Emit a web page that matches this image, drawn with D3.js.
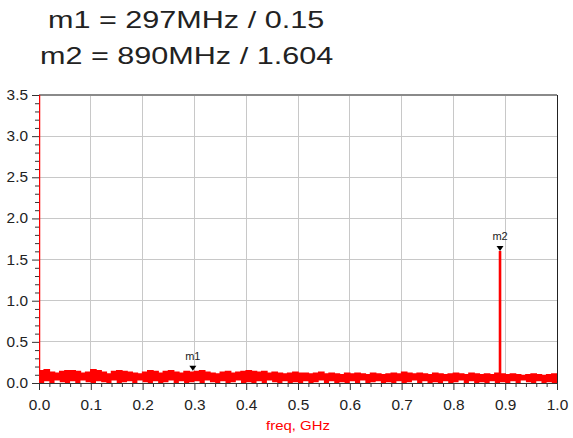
<!DOCTYPE html>
<html>
<head>
<meta charset="utf-8">
<script src="https://cdn.jsdelivr.net/npm/d3@7"></script>
<style>
  body { margin: 0; background: #fff; }
  svg { display: block; font-family: Arial, "Liberation Sans", sans-serif; }
</style>
</head>
<body>
<div id="chart"></div>
<script>
// sweep grid, GHz
var noiseFreq = [0.00,0.01,0.02,0.03,0.04,0.05,0.06,0.07,0.08,0.09,
  0.10,0.11,0.12,0.13,0.14,0.15,0.16,0.17,0.18,0.19,
  0.20,0.21,0.22,0.23,0.24,0.25,0.26,0.27,0.28,0.29,
  0.30,0.31,0.32,0.33,0.34,0.35,0.36,0.37,0.38,0.39,
  0.40,0.41,0.42,0.43,0.44,0.45,0.46,0.47,0.48,0.49,
  0.50,0.51,0.52,0.53,0.54,0.55,0.56,0.57,0.58,0.59,
  0.60,0.61,0.62,0.63,0.64,0.65,0.66,0.67,0.68,0.69,
  0.70,0.71,0.72,0.73,0.74,0.75,0.76,0.77,0.78,0.79,
  0.80,0.81,0.82,0.83,0.84,0.85,0.86,0.87,0.88,0.89,
  0.90,0.91,0.92,0.93,0.94,0.95,0.96,0.97,0.98,0.99,
  1.00];
// upper edge of the noise band
var noiseHigh = [0.15,0.16,0.13,0.12,0.14,0.15,0.15,0.14,0.12,0.13,
  0.16,0.15,0.13,0.11,0.14,0.15,0.14,0.13,0.12,0.11,
  0.13,0.15,0.14,0.12,0.14,0.15,0.13,0.12,0.14,0.13,
  0.14,0.15,0.13,0.12,0.11,0.13,0.14,0.12,0.13,0.14,
  0.15,0.14,0.13,0.14,0.12,0.13,0.12,0.11,0.12,0.13,
  0.12,0.12,0.11,0.12,0.13,0.11,0.12,0.11,0.10,0.12,
  0.11,0.12,0.11,0.10,0.12,0.11,0.10,0.11,0.12,0.11,
  0.13,0.12,0.11,0.12,0.11,0.10,0.12,0.11,0.10,0.11,
  0.12,0.11,0.10,0.12,0.11,0.10,0.11,0.10,0.12,0.11,
  0.10,0.11,0.10,0.09,0.10,0.11,0.10,0.09,0.10,0.11,
  0.10];
// lower edge of the noise band
var noiseLow = [0.00,0.02,0.00,0.03,0.01,0.00,0.02,0.00,0.03,0.01,
  0.00,0.02,0.01,0.00,0.03,0.00,0.01,0.02,0.00,0.03,
  0.01,0.00,0.02,0.00,0.01,0.03,0.00,0.02,0.00,0.01,
  0.02,0.00,0.03,0.01,0.00,0.02,0.00,0.01,0.03,0.00,
  0.01,0.00,0.02,0.00,0.03,0.01,0.00,0.02,0.00,0.01,
  0.00,0.02,0.00,0.01,0.03,0.00,0.02,0.00,0.01,0.00,
  0.02,0.00,0.03,0.00,0.01,0.02,0.00,0.01,0.00,0.02,
  0.00,0.01,0.03,0.00,0.02,0.00,0.01,0.00,0.02,0.00,
  0.01,0.03,0.00,0.02,0.00,0.01,0.00,0.02,0.00,0.01,
  0.00,0.02,0.00,0.03,0.01,0.00,0.02,0.00,0.01,0.00,
  0.01];

// narrow spikes (DC edge runs off the top)
var spikeFreq = [0.000, 0.890];
var spikeTop = [3.6, 1.604];
var spikeBase = [0.12, 0.10];

// markers
var markerNames = ["m1", "m2"];
var markerFreq = [0.297, 0.890];
var markerVal = [0.15, 1.604];

var xTicks = [0.0,0.1,0.2,0.3,0.4,0.5,0.6,0.7,0.8,0.9,1.0];
var xMinor = [0.02,0.04,0.06,0.08,0.12,0.14,0.16,0.18,0.22,0.24,0.26,0.28,
  0.32,0.34,0.36,0.38,0.42,0.44,0.46,0.48,0.52,0.54,0.56,0.58,
  0.62,0.64,0.66,0.68,0.72,0.74,0.76,0.78,0.82,0.84,0.86,0.88,
  0.92,0.94,0.96,0.98];
var yTicks = [0.0,0.5,1.0,1.5,2.0,2.5,3.0,3.5];
var yMinor = [0.1,0.2,0.3,0.4,0.6,0.7,0.8,0.9,1.1,1.2,1.3,1.4,1.6,1.7,1.8,1.9,
  2.1,2.2,2.3,2.4,2.6,2.7,2.8,2.9,3.1,3.2,3.3,3.4];

var W = 573, H = 438;
var margin = { top: 95, right: 16, bottom: 55, left: 39 };
var width = W - margin.left - margin.right;
var height = H - margin.top - margin.bottom;
var textStretch = 1.1; // the picture is wider than the font

var svg = d3.select("#chart").append("svg")
  .attr("width", W).attr("height", H);

// title block with marker readouts
markerNames.forEach(function(name, i) {
  svg.append("g")
    .attr("transform", "translate(" + (i == 0 ? 48 : 40) + "," + (28 + i * 36) + ") scale(1.33,1)")
    .append("text")
    .attr("fill", "#222")
    .style("font-size", "23px")
    .text(name + " = " + Math.round(markerFreq[i] * 1000) + "MHz / " + markerVal[i]);
});

var g = svg.append("g")
  .attr("transform", "translate(" + margin.left + "," + margin.top + ")");

var x = d3.scaleLinear().domain([0, 1]).range([0, width]);
var y = d3.scaleLinear().domain([0, 3.5]).range([height, 0]);

svg.append("defs").append("clipPath").attr("id", "plotclip")
  .append("rect").attr("x", 0).attr("y", 0).attr("width", width).attr("height", height);

// grid
g.append("g").selectAll("line").data(xTicks.slice(1, -1)).enter().append("line")
  .attr("x1", function(d) { return x(d); }).attr("x2", function(d) { return x(d); })
  .attr("y1", 0).attr("y2", height)
  .attr("stroke", "#c8c8c8").attr("shape-rendering", "crispEdges");
g.append("g").selectAll("line").data(yTicks.slice(1, -1)).enter().append("line")
  .attr("y1", function(d) { return y(d); }).attr("y2", function(d) { return y(d); })
  .attr("x1", 0).attr("x2", width)
  .attr("stroke", "#c8c8c8").attr("shape-rendering", "crispEdges");

// frame: gray top, dark right
g.append("line").attr("x1", 0).attr("x2", width).attr("y1", 0).attr("y2", 0)
  .attr("stroke", "#8a8a8a").attr("stroke-width", 2);
g.append("line").attr("x1", width).attr("x2", width).attr("y1", 0).attr("y2", height)
  .attr("stroke", "#222").attr("shape-rendering", "crispEdges");

// axes
var yAxisCall = d3.axisLeft(y).tickValues(yTicks).tickSize(7).tickPadding(3)
  .tickFormat(d3.format(".1f"));
var yMinorCall = d3.axisLeft(y).tickValues(yMinor).tickSize(4).tickFormat("");
var xAxisCall = d3.axisBottom(x).tickValues(xTicks).tickSize(7).tickPadding(10)
  .tickFormat(d3.format(".1f"));
var xMinorCall = d3.axisBottom(x).tickValues(xMinor).tickSize(4).tickFormat("");

g.append("g").attr("class", "y axis").call(yMinorCall);
g.append("g").attr("class", "y axis").call(yAxisCall);
g.append("g").attr("class", "x axis").attr("transform", "translate(0," + height + ")").call(xMinorCall);
g.append("g").attr("class", "x axis").attr("transform", "translate(0," + height + ")").call(xAxisCall);

g.selectAll(".axis path").attr("stroke", "#333");
g.selectAll(".axis line").attr("stroke", "#333");
g.selectAll(".axis text")
  .attr("fill", "#222")
  .style("font-size", "14px")
  .style("font-family", "Arial, 'Liberation Sans', sans-serif");
g.selectAll(".axis text").attr("transform", "scale(" + textStretch + ",1)");

// trace
var plot = g.append("g").attr("clip-path", "url(#plotclip)");

var band = noiseFreq.map(function(f, i) { return { f: f, lo: noiseLow[i], hi: noiseHigh[i] }; });
var area = d3.area()
  .curve(d3.curveStepAfter)
  .x(function(d) { return x(d.f); })
  .y0(function(d) { return y(d.lo); })
  .y1(function(d) { return y(d.hi); });
plot.append("path").datum(band).attr("d", area).attr("fill", "#ff0000");

// ragged top edge of the trace
var topEdge = d3.line()
  .curve(d3.curveStepAfter)
  .x(function(d) { return x(d.f); })
  .y(function(d) { return y(d.hi); });
plot.append("path").datum(band).attr("d", topEdge)
  .attr("fill", "none").attr("stroke", "#ff0000").attr("stroke-width", 1.5);

spikeFreq.forEach(function(f, i) {
  plot.append("line")
    .attr("x1", x(f) + (i == 0 ? 0.5 : 0)).attr("x2", x(f) + (i == 0 ? 0.5 : 0))
    .attr("y1", y(spikeBase[i])).attr("y2", y(spikeTop[i]))
    .attr("stroke", "#ff0000").attr("stroke-width", i == 0 ? 1.5 : 2.6);
});

// marker triangles and names
markerNames.forEach(function(name, i) {
  var mx = x(markerFreq[i]), my = y(markerVal[i]);
  g.append("path")
    .attr("d", "M" + (mx - 3.5) + "," + (my - 5) + "L" + (mx + 3.5) + "," + (my - 5) + "L" + mx + "," + my + "Z")
    .attr("fill", "#000");
  g.append("text")
    .attr("x", mx).attr("y", my - 11)
    .attr("text-anchor", "middle")
    .attr("fill", "#222")
    .style("font-size", "11px")
    .text(name);
});

// x axis label
svg.append("g")
  .attr("transform", "translate(" + (margin.left + width / 2) + ",430) scale(1.15,1)")
  .append("text")
  .attr("text-anchor", "middle")
  .attr("fill", "#ff0000")
  .style("font-size", "13px")
  .text("freq, GHz");
</script>
</body>
</html>
